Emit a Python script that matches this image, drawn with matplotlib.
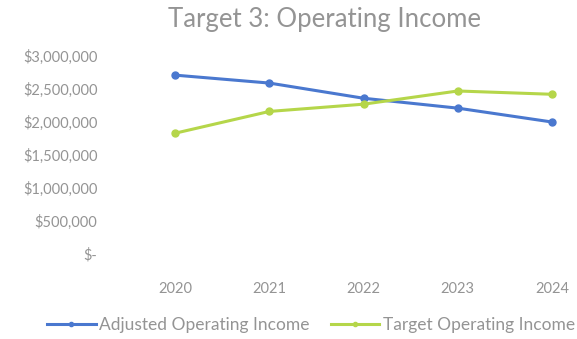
import matplotlib
matplotlib.use("Agg")
import matplotlib.pyplot as plt
from matplotlib.ticker import FuncFormatter

# data
years = ["2020", "2021", "2022", "2023", "2024"]
adjusted = [2710000, 2590000, 2360000, 2210000, 2000000]
target = [1830000, 2160000, 2270000, 2470000, 2420000]
yticks = [0, 500000, 1000000, 1500000, 2000000, 2500000, 3000000]

blue = "#4a78cf"
green = "#b5d64a"
grey = "#949494"

plt.rcParams['font.family'] = ['Lato', 'DejaVu Sans']

fig = plt.figure(figsize=(5.77, 3.39), dpi=100)
ax = fig.add_axes([128 / 577, 85 / 339, 1 - 128 / 577, 198 / 339])

x = list(range(len(years)))
ax.plot(x, adjusted, color=blue, lw=2.2, marker="o", ms=5,
        label="Adjusted Operating Income")
ax.plot(x, target, color=green, lw=2.2, marker="o", ms=5,
        label="Target Operating Income")

ax.set_xlim(-0.5, 4 + 25 / 94)
ax.set_ylim(0, 3000000)
ax.set_xticks(x)
ax.set_xticklabels(years)
ax.set_yticks(yticks)


def money(v, pos):
    if v == 0:
        return "$-"
    return "${:,.0f}".format(v)


ax.yaxis.set_major_formatter(FuncFormatter(money))
ax.tick_params(axis="both", length=0, colors=grey, labelsize=10.5)
ax.tick_params(axis="y", pad=22)
ax.tick_params(axis="x", pad=20)
for s in ax.spines.values():
    s.set_visible(False)

fig.text(325 / 577, 1 - 20 / 339, "Target 3: Operating Income", ha="center",
         va="center", fontsize=18.5, color=grey)

fig.legend(loc="center", bbox_to_anchor=(311 / 577, 1 - 325 / 339), ncol=2,
           frameon=False, fontsize=12.5, labelcolor=grey, handlelength=2.8,
           columnspacing=1.2, handletextpad=0.2, markerscale=0.6)

fig.savefig("out.png", dpi=100)
